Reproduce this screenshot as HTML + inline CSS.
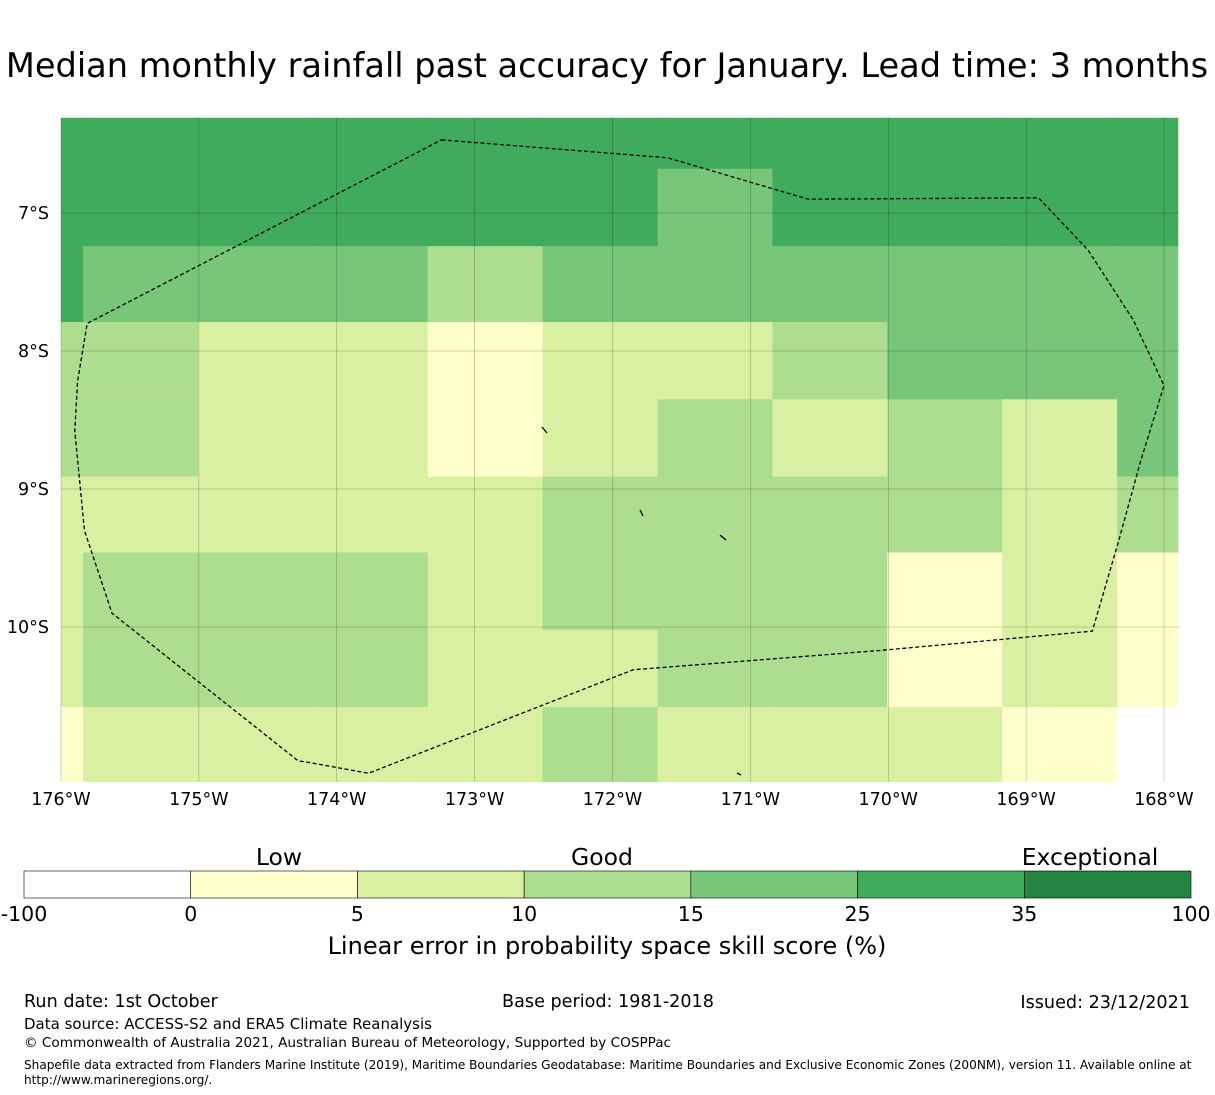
<!DOCTYPE html>
<html><head><meta charset="utf-8"><style>
body{margin:0;background:#fff;width:1215px;height:1095px;overflow:hidden;font-family:"DejaVu Sans","Liberation Sans",sans-serif}
svg{display:block}
</style></head><body>
<svg width="1215" height="1095">
<text x="607" y="77" text-anchor="middle" font-size="33.6">Median monthly rainfall past accuracy for January. Lead time: 3 months</text>
<g id="map"></g>
<g id="cbar"></g>
<g font-size="17.6">
<text x="24" y="1007">Run date: 1st October</text>
<text x="608" y="1007" text-anchor="middle">Base period: 1981-2018</text>
<text x="1190" y="1008" text-anchor="end">Issued: 23/12/2021</text>
<text x="24" y="1029" font-size="15">Data source: ACCESS-S2 and ERA5 Climate Reanalysis</text>
<text x="24" y="1047" font-size="13.6">© Commonwealth of Australia 2021, Australian Bureau of Meteorology, Supported by COSPPac</text>
<text x="24" y="1069" font-size="12.1">Shapefile data extracted from Flanders Marine Institute (2019), Maritime Boundaries Geodatabase: Maritime Boundaries and Exclusive Economic Zones (200NM), version 11. Available online at</text>
<text x="24" y="1084" font-size="12.1">http://www.marineregions.org/.</text>
</g>
</svg>
<script>
const colors=["#ffffff","#ffffcc","#d9f0a3","#addd8e","#78c679","#41ab5d","#238443"];
const binLabels=["-100","0","5","10","15","25","35","100"];
const lonTicks=[-176,-175,-174,-173,-172,-171,-170,-169,-168];
const latTicks=[-7,-8,-9,-10];
const lonEdges=[-176.0,-175.84,-175.007,-174.173,-173.34,-172.507,-171.673,-170.84,-170.007,-169.173,-168.34,-167.9];
const latEdges=[-6.31,-6.68,-7.24,-7.79,-8.35,-8.91,-9.46,-10.02,-10.58,-11.12];
const cells=[
[5,5,5,5,5,5,5,5,5,5,5],
[5,5,5,5,5,5,4,5,5,5,5],
[5,4,4,4,3,4,4,4,4,4,4],
[3,3,2,2,1,2,2,3,4,4,4],
[3,3,2,2,1,2,3,2,3,2,4],
[2,2,2,2,2,3,3,3,3,2,3],
[2,3,3,3,2,3,3,3,1,2,1],
[2,3,3,3,2,2,3,3,1,2,1],
[1,2,2,2,2,3,2,2,2,1,0]];
const eezLon=[-173.24,-171.6,-170.58,-168.91,-168.55,-168.22,-168.0,-168.17,-168.33,-168.52,-170.06,-171.85,-173.77,-174.21,-174.28,-175.63,-175.83,-175.9,-175.88,-175.81,-173.24];
const eezLat=[-6.47,-6.60,-6.90,-6.89,-7.27,-7.78,-8.25,-8.80,-9.38,-10.03,-10.17,-10.31,-11.06,-10.98,-10.97,-9.90,-9.30,-8.58,-8.22,-7.80,-6.47];
const NS="http://www.w3.org/2000/svg";
const X=lon=>61+(lon+176)*137.875;
const Y=lat=>213+(-7-lat)*138;
function mk(t,a,p){const e=document.createElementNS(NS,t);for(const k in a)e.setAttribute(k,a[k]);p.appendChild(e);return e;}
const map=document.getElementById('map');
const x0=X(-176),x1=1179,y0=Y(latEdges[0]),y1=Y(latEdges[9]);
for(let r=0;r<cells.length;r++)for(let c=0;c<cells[r].length;c++){
 const xa=X(lonEdges[c]),xb=Math.min(X(lonEdges[c+1]),x1);
 const e=mk('rect',{x:xa,y:Y(latEdges[r]),width:xb-xa+0.5,height:Y(latEdges[r+1])-Y(latEdges[r])+0.5,fill:colors[cells[r][c]]},map);
 
 
}
lonTicks.forEach(l=>{
 const e=mk('line',{x1:X(l),x2:X(l),y1:y0,y2:y1,stroke:'#000','stroke-width':0.5,'stroke-opacity':0.35},map);
 
 const t=mk('text',{x:X(l),y:805,'text-anchor':'middle','font-size':17.5},map);t.textContent=Math.abs(l)+'°W';
 
});
latTicks.forEach(l=>{
 const e=mk('line',{x1:x0,x2:x1,y1:Y(l),y2:Y(l),stroke:'#000','stroke-width':0.5,'stroke-opacity':0.35},map);
 
 const t=mk('text',{x:49,y:Y(l)+6,'text-anchor':'end','font-size':17.5},map);t.textContent=Math.abs(l)+'°S';
 
});
const pts=eezLon.map((l,i)=>X(l)+','+Y(eezLat[i])).join(' ');
const eez=mk('polyline',{points:pts,fill:'none',stroke:'#000','stroke-width':1.3,'stroke-dasharray':'4,2.5'},map);

[[542,427,547,433],[640,510,643,516],[720,535,726,540],[737,773,741,775]].forEach(s=>{
 const e=mk('line',{x1:s[0],y1:s[1],x2:s[2],y2:s[3],stroke:'#000','stroke-width':1.3},map);
 
});
const cb=document.getElementById('cbar');
const cw=(1191-24)/7;
for(let i=0;i<7;i++){const e=mk('rect',{x:24+i*cw,y:871,width:cw,height:27,fill:colors[i],stroke:'#000','stroke-width':0.6},cb);
 }
binLabels.forEach((b,i)=>{const t=mk('text',{x:24+i*cw,y:921,'text-anchor':'middle','font-size':20.5},cb);t.textContent=b;
 });
[["Low",279],["Good",602],["Exceptional",1090]].forEach(a=>{const t=mk('text',{x:a[1],y:865,'text-anchor':'middle','font-size':23.5},cb);t.textContent=a[0];
 });
const ct=mk('text',{x:607,y:954,'text-anchor':'middle','font-size':24},cb);ct.textContent='Linear error in probability space skill score (%)';

</script>
</body></html>
